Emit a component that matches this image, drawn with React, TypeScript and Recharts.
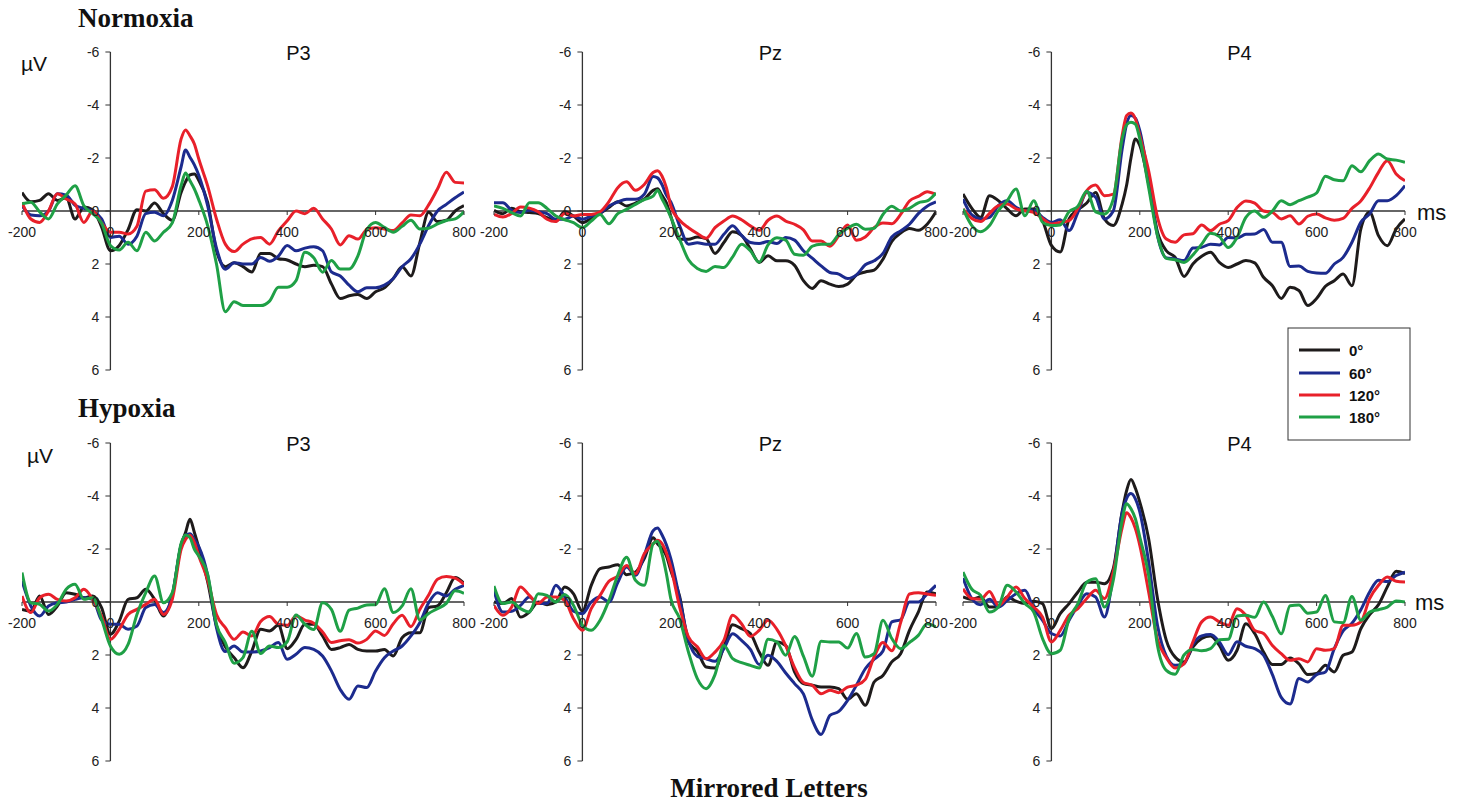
import React from 'react';
import { LineChart, Line, XAxis, YAxis, ReferenceLine } from 'recharts';

// ---------- categories / ticks ----------
const times = [-200, -180, -160, -140, -120, -100, -80, -60, -40, -20, 0, 20, 40, 60, 80, 100, 120, 140, 160, 170, 180, 190, 200, 220, 240, 260, 280, 300, 320, 340, 360, 380, 400, 420, 440, 460, 480, 500, 520, 540, 560, 580, 600, 620, 640, 660, 680, 700, 720, 740, 760, 780, 800];
const xTicks = [-200, 0, 200, 400, 600, 800];
const yTicks = [-6, -4, -2, 0, 2, 4, 6];
const conditions = ['0°', '60°', '120°', '180°'];
const colors = ['#1e1b1b', '#1c2b8e', '#e8202a', '#1fa046'];

// ---------- Normoxia ----------
const nP3_0 = [-0.7, -0.35, -0.4, -0.65, -0.4, -0.5, 0.3, -0.15, -0.05, 0.6, 1.5, 1.3, 0.7, -0.05, 0, -0.3, 0.1, 0.35, -0.7, -1.1, -1.36, -1.4, -1.15, -0.33, 1.5, 2.1, 1.95, 2.1, 2.3, 1.6, 1.6, 1.8, 1.85, 2.0, 2.1, 2.05, 2.1, 2.75, 3.3, 3.2, 3.15, 3.3, 3.05, 2.9, 2.55, 2.1, 2.45, 1.2, 0.05, 0.4, 0.35, 0, -0.2];
const nP3_60 = [-0.2, 0.15, 0.18, 0, -0.65, -0.6, -0.22, -0.1, 0, 0.3, 1.0, 0.95, 1.25, 0.95, 0.1, 0.05, 0.18, -0.4, -1.67, -2.3, -2.03, -1.74, -1.35, -0.2, 1.4, 2.2, 1.95, 2.0, 2.0, 1.75, 1.9, 1.7, 1.3, 1.5, 1.4, 1.35, 1.5, 2.3, 2.45, 2.8, 3.05, 2.9, 2.9, 2.8, 2.55, 2.1, 1.8, 1.25, 0.55, 0, -0.25, -0.5, -0.72];
const nP3_120 = [-0.33, 0.3, 0.43, 0, -0.65, -0.45, -0.26, 0.43, 0, 0.45, 0.8, 0.8, 0.87, 0.58, -0.75, -0.8, -0.48, -0.92, -2.72, -3.06, -2.84, -2.53, -1.96, -0.95, 0.3, 1.25, 1.53, 1.25, 1.05, 1.0, 1.25, 0.75, 0.37, 0, 0.1, -0.1, 0.3, 0.68, 1.28, 0.93, 1.06, 0.7, 0.63, 0.68, 0.74, 0.45, 0.15, 0.18, -0.23, -0.83, -1.46, -1.08, -1.06];
const nP3_180 = [-0.27, -0.33, 0.03, 0.3, -0.27, -0.6, -0.95, -0.2, 0.1, 0.45, 1.3, 1.47, 1.18, 1.5, 0.8, 1.13, 0.8, 0.45, -0.96, -1.43, -1.14, -0.83, -0.42, 0.55, 2.0, 3.8, 3.42, 3.57, 3.57, 3.57, 3.4, 2.88, 2.88, 2.63, 1.56, 1.76, 2.31, 1.87, 2.19, 2.19, 1.69, 0.7, 0.43, 0.62, 0.8, 0.58, 0.35, 0.68, 0.65, 0.49, 0.36, 0.3, 0.03];

const nPz_0 = [-0.03, 0.1, -0.1, 0.03, 0.06, 0.1, 0.25, 0.38, 0.03, 0.19, 0.44, 0.28, 0.09, -0.13, -0.35, -0.19, -0.3, -0.45, -0.78, -0.84, -0.59, -0.31, 0.2, 1.07, 1.07, 0.98, 1.04, 1.6, 1.19, 0.78, 0.92, 1.43, 1.94, 1.69, 1.88, 1.88, 2.05, 2.63, 2.92, 2.63, 2.76, 2.85, 2.76, 2.42, 2.3, 2.23, 1.82, 1.15, 0.83, 0.66, 0.73, 0.5, 0.03];
const nPz_60 = [-0.31, -0.31, -0.03, 0.06, -0.03, 0.03, 0.1, 0.31, 0.31, 0.19, 0.31, 0.19, 0.08, -0.19, -0.34, -0.44, -0.44, -0.63, -1.3, -1.25, -1.0, -0.6, -0.34, 0.56, 1.25, 1.2, 1.25, 1.25, 0.88, 0.56, 0.92, 1.19, 1.23, 1.15, 1.23, 1.0, 1.1, 1.5, 1.78, 2.07, 2.32, 2.38, 2.55, 2.41, 2.03, 1.88, 1.6, 0.98, 0.75, 0.5, 0.1, -0.18, -0.34];
const nPz_120 = [0.13, 0.23, 0.09, -0.15, -0.11, 0.03, 0.31, 0.4, 0.09, 0.19, 0.13, 0.13, 0.03, -0.35, -0.88, -1.1, -0.78, -1.0, -1.45, -1.52, -1.32, -0.88, -0.19, 0.35, 0.63, 0.85, 1.03, 0.63, 0.38, 0.19, 0.33, 0.56, 0.73, 0.35, 0.19, 0.38, 0.5, 0.71, 1.13, 1.13, 1.33, 0.94, 0.53, 1.1, 0.98, 0.63, 0.45, 0.48, 0.13, -0.38, -0.55, -0.73, -0.63];
const nPz_180 = [-0.19, -0.1, 0.06, 0.19, -0.31, -0.31, -0.1, 0.19, 0.33, 0.44, 0.63, 0.38, 0.13, 0.48, 0.1, -0.06, -0.25, -0.43, -0.56, -0.78, -0.46, -0.14, 0.23, 1.07, 1.84, 2.17, 2.28, 2.09, 2.13, 1.73, 1.25, 1.5, 1.93, 1.28, 1.01, 1.1, 1.63, 1.67, 1.33, 1.25, 1.25, 0.88, 0.65, 0.5, 0.69, 0.65, 0.13, -0.18, 0, -0.1, -0.31, -0.38, -0.68];

const nP4_0 = [-0.64, -0.1, 0.24, -0.58, -0.39, -0.08, 0.18, -0.08, -0.08, 0.36, 1.3, 1.55, 0.3, -0.05, -0.3, -0.7, 0.3, 0.55, -0.26, -0.96, -2.0, -2.72, -2.47, -1.02, 0.8, 1.5, 1.75, 2.47, 2.0, 1.71, 1.56, 1.94, 2.13, 2.0, 1.87, 1.96, 2.5, 2.82, 3.3, 2.88, 3.0, 3.57, 3.3, 2.84, 2.63, 2.38, 2.82, 0.68, 0.05, 0.93, 1.31, 0.68, 0.3];
const nP4_60 = [-0.45, 0.15, 0.3, 0.24, -0.2, -0.39, -0.14, -0.01, -0.05, 0.24, 0.43, 0.33, 0.74, 0.05, -0.7, -0.52, 0.3, 0, -2.33, -3.27, -3.6, -3.5, -3.03, -1.21, 0.93, 1.77, 1.81, 1.87, 1.4, 1.37, 1.25, 1.28, 1.0, 1.02, 0.88, 0.87, 0.7, 1.18, 1.18, 2.09, 2.08, 2.28, 2.34, 2.35, 2.0, 1.75, 1.18, 0.43, 0.11, -0.39, -0.39, -0.58, -0.96];
const nP4_120 = [-0.08, 0.28, 0.4, 0.09, -0.2, -0.26, -0.08, -0.01, 0.05, 0.28, 0.49, 0.43, 0.36, -0.1, -0.77, -0.98, -0.58, -0.64, -2.84, -3.6, -3.7, -3.48, -2.84, -1.52, 0.24, 1.06, 1.18, 0.9, 0.86, 0.53, 0.74, 0.5, 0.36, -0.13, -0.38, -0.3, 0, 0.05, 0.3, 0.18, 0.49, 0.2, 0.11, 0.26, 0.35, 0.28, -0.1, -0.38, -0.87, -1.46, -1.9, -1.4, -1.14];
const nP4_180 = [-0.08, 0.55, 0.78, 0.55, -0.01, -0.39, -0.83, 0.18, -0.39, 0.43, 0.55, 0.53, 0.03, -0.18, -0.75, 0.03, 0.11, -0.45, -2.72, -3.25, -3.35, -3.28, -2.72, -0.89, 0.93, 1.79, 1.84, 1.94, 1.66, 1.25, 0.84, 0.96, 1.38, 1.0, 0.24, 0, 0.24, 0, -0.39, -0.24, -0.39, -0.52, -0.68, -1.31, -1.18, -1.14, -1.71, -1.48, -1.9, -2.15, -1.96, -1.92, -1.84];

// ---------- Hypoxia ----------
const hP3_0 = [0.28, 0.34, -0.23, 0.47, 0.15, -0.35, -0.29, -0.16, -0.23, 0.21, 1.22, 0.72, -0.1, -0.16, -0.48, -0.1, 0.53, -0.25, -2.15, -2.62, -3.12, -2.62, -2.05, -0.77, 0.9, 1.69, 2.1, 2.48, 1.85, 1.03, 1.09, 0.88, 1.76, 1.41, 0.84, 0.84, 1.28, 1.79, 1.72, 1.6, 1.79, 1.85, 1.85, 1.79, 2.04, 1.35, 1.16, 1.16, 0.21, 0.15, -0.35, -0.92, -0.7];
const hP3_60 = [-0.79, 0.15, 0.53, 0.15, 0.03, 0, -0.1, -0.16, -0.1, 0.68, 0.84, 0.84, 1.03, 0.91, 0.21, 0.09, 0.4, -0.25, -2.15, -2.52, -2.58, -2.36, -2.09, -1.02, 0.97, 1.87, 1.66, 1.89, 1.89, 1.85, 1.72, 1.53, 2.16, 1.97, 1.72, 1.79, 2.04, 2.6, 3.3, 3.67, 3.17, 3.23, 2.6, 2.1, 1.85, 1.66, 1.28, 0.78, 0.03, -0.35, -0.23, -0.48, -0.63];
const hP3_120 = [-0.23, 0.4, -0.16, -0.29, -0.1, -0.04, -0.16, -0.48, -0.1, 0.53, 1.41, 1.03, 0.47, 0.28, 0.09, -0.1, 0.47, -0.1, -1.99, -2.36, -2.52, -2.24, -1.74, -0.83, 0.47, 0.97, 1.41, 1.13, 1.28, 0.74, 0.55, 0.84, 0.88, 0.53, 0.68, 0.8, 1.13, 1.53, 1.46, 1.42, 1.55, 1.41, 1.09, 1.26, 0.82, 0.5, 0.93, 0.28, -0.26, -0.86, -0.96, -0.9, -0.67];
const hP3_180 = [-1.11, 0.03, 0.09, 0.34, 0.09, -0.48, -0.67, -0.1, -0.16, 0.65, 1.66, 1.97, 1.6, 0.47, -0.35, -0.98, 0.03, -0.35, -2.21, -2.53, -2.43, -1.99, -1.74, -1.04, 0.84, 1.53, 2.31, 2.1, 1.1, 1.94, 1.66, 1.72, 1.5, 0.49, 0.84, 1.04, 0.03, 0.28, 1.1, 0.31, 0.23, 0.11, 0.1, -0.5, 0.4, 0.15, -0.5, 0.68, 0.43, 0.25, 0.05, -0.42, -0.33];

const hPz_0 = [0, 0.06, -0.13, 0.57, 0.38, 0, 0.1, 0, -0.57, -0.31, 0.35, -0.63, -1.26, -1.32, -1.41, -1.03, -1.13, -1.64, -2.42, -2.2, -2.01, -1.74, -1.19, -0.21, 1.51, 1.86, 2.45, 2.49, 1.7, 0.86, 1.01, 1.19, 1.89, 2.39, 1.51, 1.64, 2.64, 3.08, 3.14, 3.21, 3.21, 3.27, 3.67, 3.46, 3.9, 3.02, 2.77, 2.26, 1.95, 1.07, 0.38, -0.38, -0.31];
const hPz_60 = [-0.44, 0.38, 0.35, 0.13, -0.19, 0.06, 0.06, -0.63, -0.19, 0.35, 0.44, 0, -0.19, 0, -0.73, -1.32, -1.01, -1.76, -2.69, -2.79, -2.54, -2.16, -1.64, -0.13, 1.45, 2.05, 2.14, 2.24, 1.76, 1.2, 1.45, 1.79, 2.36, 2.01, 2.24, 2.68, 3.08, 3.47, 4.45, 5.0, 4.28, 4.13, 3.71, 3.14, 2.52, 2.16, 1.85, 0.75, 0.67, 0, 0, -0.31, -0.63];
const hPz_120 = [0.13, 0.5, 0.19, -0.57, -0.25, 0.06, -0.19, -0.19, -0.06, 0.63, 1.07, 0.25, -0.25, -0.78, -0.98, -1.38, -1.07, -1.82, -2.19, -2.33, -2.2, -1.85, -1.32, 0.19, 1.32, 1.69, 2.14, 1.89, 1.45, 0.5, 0.82, 1.3, 1.07, 0.69, 1.03, 1.65, 2.48, 3.04, 3.14, 3.46, 3.33, 3.42, 3.21, 3.14, 2.92, 2.07, 1.53, 1.84, 0.78, -0.3, -0.35, -0.3, -0.25];
const hPz_180 = [-0.6, 0.06, 0, 0.25, 0.38, -0.31, -0.25, 0, -0.28, 0.13, 0.88, 1.07, 0.69, -0.06, -1.01, -1.69, -0.82, -0.63, -2.2, -2.29, -1.82, -1.07, -0.13, 0.63, 1.89, 2.89, 3.27, 2.74, 1.64, 2.14, 2.29, 2.39, 2.49, 1.41, 1.51, 2.01, 1.3, 2.04, 2.8, 1.48, 1.51, 1.51, 1.74, 1.19, 2.08, 1.95, 0.69, 1.38, 1.76, 1.53, 1.26, 0.82, 0.94];

const hP4_0 = [-0.19, -0.1, -0.19, 0.19, 0.19, -0.19, -0.03, 0.06, -0.03, 0.06, 1.0, 0.44, 0.06, -0.38, -0.75, -0.75, -0.69, -1.26, -3.4, -4.19, -4.62, -4.29, -3.77, -2.39, -0.13, 1.45, 2.08, 2.26, 1.7, 1.38, 1.28, 1.64, 2.2, 1.82, 0.82, 1.19, 1.89, 2.36, 2.36, 2.11, 2.33, 2.74, 2.7, 2.39, 2.64, 2.01, 1.89, 1.01, 0.48, 0.1, -0.57, -1.16, -1.07];
const hP4_60 = [-0.91, -0.13, 0.1, -0.1, 0.19, -0.06, -0.31, -0.44, 0.25, 0.69, 1.19, 1.28, 0.69, 0.13, -0.31, -0.19, 0.57, -1.03, -3.36, -3.9, -4.09, -3.89, -3.4, -1.51, 0.88, 2.04, 2.39, 2.33, 1.6, 1.28, 1.23, 1.51, 1.99, 1.5, 1.67, 1.76, 2.01, 2.74, 3.6, 3.85, 2.89, 3.02, 2.74, 2.64, 1.76, 1.09, 0.8, 0.29, -0.38, -0.82, -0.77, -1.0, -1.13];
const hP4_120 = [-0.5, -0.13, -0.1, -0.4, 0.13, -0.19, -0.57, -0.13, 0.19, 0.57, 1.51, 1.07, 0.5, 0.25, -0.13, -0.44, -0.13, -1.13, -2.8, -3.37, -3.18, -2.77, -2.14, -0.38, 1.41, 2.1, 2.49, 2.33, 1.51, 0.75, 0.57, 0.75, 0.88, 0.25, 0.5, 1.07, 1.19, 1.64, 1.95, 2.2, 2.14, 2.26, 1.76, 1.82, 1.76, 0.88, 0.88, 0.75, -0.13, -0.63, -0.94, -0.78, -0.75];
const hP4_180 = [-1.13, -0.48, -0.25, 0.38, 0.19, -0.63, -0.38, 0.06, 0.38, 1.38, 1.95, 1.82, 0.63, 0.06, -0.75, -0.88, 0.19, -0.82, -3.08, -3.71, -3.52, -3.14, -2.45, -1.0, 1.64, 2.58, 2.73, 2.0, 1.79, 1.84, 1.76, 1.42, 1.41, 0.53, 0.5, 0.58, 0, 0.55, 1.2, 0.14, 0.11, 0.42, 0.38, -0.25, 0.75, 0.78, -0.21, 0.69, 0.38, 0.29, 0.19, -0.04, 0];

// ---------- layout ----------
const PW = 442;
const PH = 318;
const M = { top: 10, right: 24, bottom: 14, left: 21 };
const Y_AXIS_W = 1;
const X_AXIS_H = 1;
const PLOT_LEFT = M.left + Y_AXIS_W;
const AXIS_X = PLOT_LEFT + PW * 0.2;
const ZERO_Y = M.top + PH / 2;
const SANS = '"Liberation Sans", Arial, Helvetica, sans-serif';
const SERIF = '"Liberation Serif", "Times New Roman", serif';
const AXIS_COLOR = '#333';
const TICK_FONT = 14;

const panels = [
  { key: 'nP3', title: 'P3', left: 22, top: 52, series: [nP3_0, nP3_60, nP3_120, nP3_180] },
  { key: 'nPz', title: 'Pz', left: 494, top: 52, series: [nPz_0, nPz_60, nPz_120, nPz_180] },
  { key: 'nP4', title: 'P4', left: 963, top: 52, series: [nP4_0, nP4_60, nP4_120, nP4_180] },
  { key: 'hP3', title: 'P3', left: 22, top: 443, series: [hP3_0, hP3_60, hP3_120, hP3_180] },
  { key: 'hPz', title: 'Pz', left: 494, top: 443, series: [hPz_0, hPz_60, hPz_120, hPz_180] },
  { key: 'hP4', title: 'P4', left: 963, top: 443, series: [hP4_0, hP4_60, hP4_120, hP4_180] },
];

const renderXTick = (props: any) => {
  const { x, payload } = props;
  return (
    <g>
      <line x1={x} x2={x} y1={ZERO_Y} y2={ZERO_Y + 4} stroke={AXIS_COLOR} strokeWidth={1} />
      <text x={x} y={ZERO_Y + 26} textAnchor="middle" fontSize={TICK_FONT} fill="#222" fontFamily={SANS}>
        {payload.value}
      </text>
    </g>
  );
};

const renderYTick = (props: any) => {
  const { y, payload } = props;
  return (
    <g>
      <line x1={AXIS_X - 5} x2={AXIS_X} y1={y} y2={y} stroke={AXIS_COLOR} strokeWidth={1} />
      <text x={AXIS_X - 11} y={y + 5} textAnchor="end" fontSize={TICK_FONT} fill="#222" fontFamily={SANS}>
        {payload.value}
      </text>
    </g>
  );
};

function Panel({ p }: { p: any }) {
  const rows = times.map((t, i) => ({
    t,
    s0: p.series[0][i],
    s60: p.series[1][i],
    s120: p.series[2][i],
    s180: p.series[3][i],
  }));
  const keys = ['s0', 's60', 's120', 's180'];
  return (
    <div style={{ position: 'absolute', left: p.left - PLOT_LEFT, top: p.top - M.top }}>
      <LineChart
        width={PW + PLOT_LEFT + M.right}
        height={PH + M.top + M.bottom + X_AXIS_H}
        data={rows}
        margin={M}
      >
        <XAxis
          dataKey="t"
          type="number"
          domain={[-200, 800]}
          ticks={xTicks}
          interval={0}
          height={X_AXIS_H}
          axisLine={false}
          tickLine={false}
          tick={renderXTick}
          allowDataOverflow
        />
        <YAxis
          type="number"
          domain={[-6, 6]}
          reversed
          ticks={yTicks}
          interval={0}
          width={Y_AXIS_W}
          axisLine={false}
          tickLine={false}
          tick={renderYTick}
          allowDataOverflow
        />
        <ReferenceLine y={0} stroke={AXIS_COLOR} strokeWidth={1.3} />
        <ReferenceLine x={0} stroke={AXIS_COLOR} strokeWidth={1.3} />
        {keys.map((k, i) => (
          <Line
            key={k}
            dataKey={k}
            type="monotone"
            stroke={colors[i]}
            strokeWidth={3}
            dot={false}
            activeDot={false}
            isAnimationActive={false}
          />
        ))}
      </LineChart>
    </div>
  );
}

export default function App() {
  const legendRows = [350, 373, 395, 417];
  return (
    <div style={{ position: 'absolute', left: 0, top: 0, width: 1461, height: 803, background: '#fff', overflow: 'hidden' }}>
      {panels.map((p) => (
        <Panel key={p.key} p={p} />
      ))}
      <svg width={1461} height={803} style={{ position: 'absolute', left: 0, top: 0, pointerEvents: 'none' }}>
        <text x={78} y={27} fontFamily={SERIF} fontWeight="bold" fontSize={27} fill="#111">Normoxia</text>
        <text x={78} y={417} fontFamily={SERIF} fontWeight="bold" fontSize={27} fill="#111">Hypoxia</text>
        <text x={769} y={797} textAnchor="middle" fontFamily={SERIF} fontWeight="bold" fontSize={27} fill="#111">Mirrored Letters</text>
        <text x={21} y={71} fontFamily={SANS} fontSize={21} fill="#111">µV</text>
        <text x={27} y={463} fontFamily={SANS} fontSize={21} fill="#111">µV</text>
        <text x={1417} y={220} fontFamily={SANS} fontSize={22} fill="#111">ms</text>
        <text x={1415} y={610} fontFamily={SANS} fontSize={22} fill="#111">ms</text>
        {panels.map((p) => (
          <text
            key={'t' + p.key}
            x={p.left + PW * 0.2 + 188}
            y={p.top + 7.5}
            textAnchor="middle"
            fontFamily={SANS}
            fontSize={20}
            fill="#111"
          >
            {p.title}
          </text>
        ))}
        <rect x={1288} y={328} width={122} height={112} fill="#fff" stroke="#333" strokeWidth={1} />
        {conditions.map((c, i) => (
          <g key={c}>
            <line x1={1299} x2={1340} y1={legendRows[i]} y2={legendRows[i]} stroke={colors[i]} strokeWidth={3} />
            <text x={1349} y={legendRows[i] + 5.5} fontFamily={SANS} fontWeight="bold" fontSize={15} fill="#111">
              {c}
            </text>
          </g>
        ))}
      </svg>
    </div>
  );
}
